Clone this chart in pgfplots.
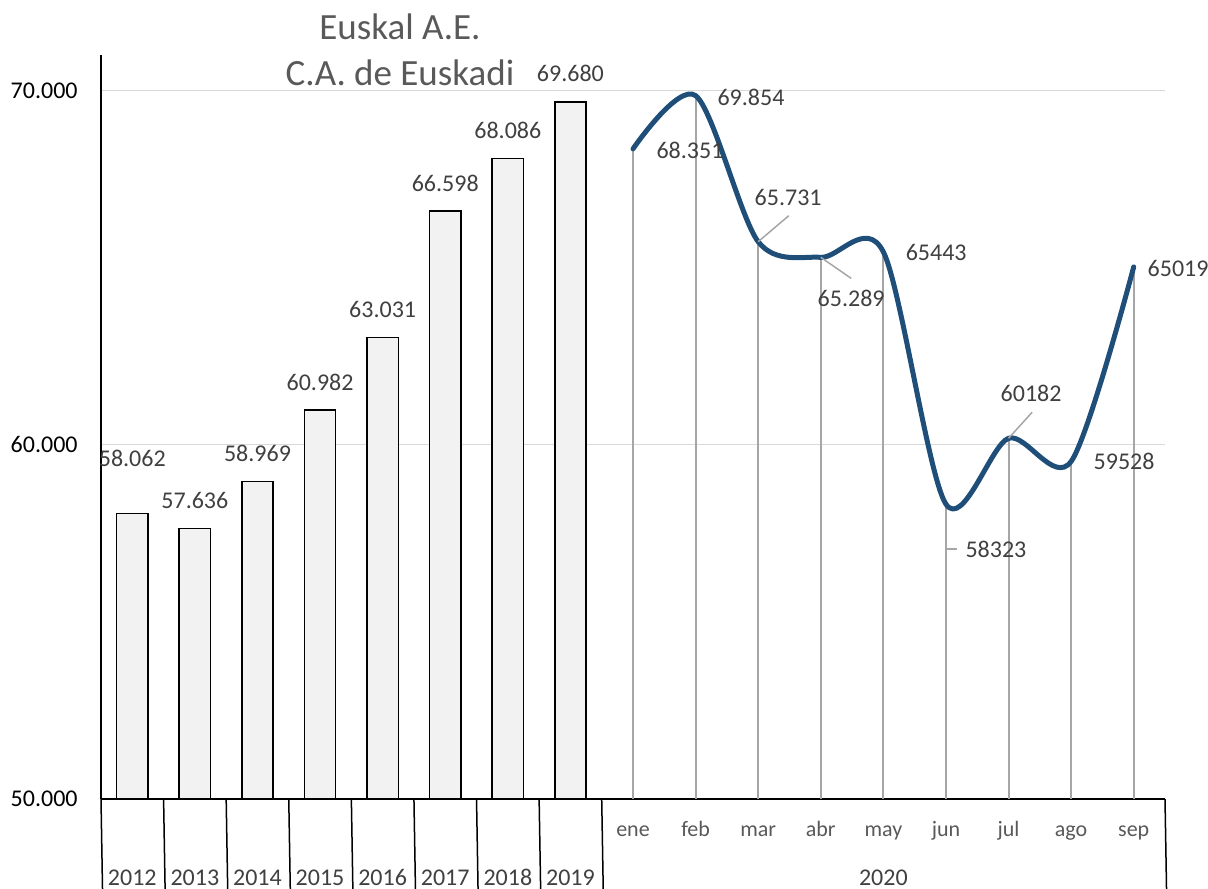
\documentclass[border=0pt]{standalone}
\usepackage{fontspec}
\setmainfont{Carlito}
\usepackage{pgfplots}
\usepackage{pgfplotstable}
\pgfplotsset{compat=1.18}
\definecolor{linecol}{HTML}{1F4E79}
\definecolor{barfill}{HTML}{F2F2F2}
\definecolor{gridc}{HTML}{D9D9D9}
\definecolor{dropc}{HTML}{A6A6A6}
\definecolor{lblc}{HTML}{404040}
\definecolor{titc}{HTML}{595959}

\pgfplotstableread{
x y label dy
0 58062 58.062 22.75
1 57636 57.636 9.5
2 58969 58.969 9.5
3 60982 60.982 9.5
4 63031 63.031 9.5
5 66598 66.598 9.5
6 68086 68.086 9.5
7 69680 69.680 9.5
}\bars

\pgfplotstableread{
x y label dx dy
8 68351 68.351 28.5 -0.75
9 69854 69.854 27.7 -0.9
10 65731 65.731 15 22
11 65289 65.289 15.2 -20.5
12 65443 65443 26.4 -0.25
13 58323 58323 25 -22.5
14 60182 60182 11.3 22.5
15 59528 59528 26.5 0
16 65019 65019 22.2 -0.7
}\months

\begin{document}
\begin{tikzpicture}
\begin{axis}[
  scale only axis,
  width=532pt, height=372pt,
  xmin=-0.5, xmax=16.5,
  ymin=50000, ymax=71000,
  scaled y ticks=false,
  axis x line*=bottom, axis y line*=left,
  axis line style={black, line width=0.75pt},
  ytick={50000,60000,70000},
  yticklabels={50.000,60.000,70.000},
  ymajorgrids,
  grid style={gridc, line width=0.75pt},
  major tick length=0pt,
  yticklabel style={anchor=east, inner sep=0pt, xshift=-11.5pt, font=\fontsize{12}{14}\selectfont, text=black},
  xtick={8,...,16},
  xticklabels={ene,feb,mar,abr,may,jun,jul,ago,sep},
  xticklabel style={anchor=base, inner sep=0pt, yshift=-18.9pt, font=\fontsize{11}{13}\selectfont, text=titc},
  extra x ticks={0,1,2,3,4,5,6,7,12},
  extra x tick labels={2012,2013,2014,2015,2016,2017,2018,2019,2020},
  extra x tick style={xticklabel style={yshift=-24.1pt, font=\fontsize{12}{14}\selectfont, text=lblc}},
  clip mode=individual,
]
\coordinate (O) at (rel axis cs:0,0);

\addplot[ybar, bar width=0.5, bar shift=0pt, fill=barfill, draw=black, line width=0.75pt,
  point meta=explicit symbolic, nodes near coords,
  visualization depends on={\thisrow{dy} \as \bdy},
  every node near coord/.append style={anchor=south, inner sep=0pt, yshift=\bdy pt,
    font=\fontsize{12}{14}\selectfont, text=lblc}]
  table[x=x, y=y, meta=label] {\bars};

\addplot[ycomb, dropc, line width=1pt, mark=none] table[x=x, y=y] {\months};

\addplot[smooth, linecol, line width=2.5pt, line cap=round, line join=round, mark=none,
  point meta=explicit symbolic, nodes near coords,
  visualization depends on={\thisrow{dx} \as \ldx},
  visualization depends on={\thisrow{dy} \as \ldy},
  every node near coord/.append style={anchor=center, xshift=\ldx pt, yshift=\ldy pt,
    inner sep=0pt, font=\fontsize{12}{14}\selectfont, text=lblc}]
  table[x=x, y=y, meta=label] {\months};

\draw[dropc, line width=0.75pt] (axis cs:10,65731) -- ++(15.3pt,13pt);
\draw[dropc, line width=0.75pt] (axis cs:11,65289) -- ++(15.2pt,-10.5pt);
\draw[dropc, line width=0.75pt] (axis cs:13,58323) ++(0pt,-22.5pt) -- ++(5.5pt,0pt);
\draw[dropc, line width=0.75pt] (axis cs:14,60182) -- ++(11.8pt,13pt);

\draw[black, line width=0.75pt] (axis cs:-0.5,50000) -- ++(0,-44.5pt);
\draw[black, line width=0.75pt] (axis cs:0.5,50000) -- ++(0,-44.5pt);
\draw[black, line width=0.75pt] (axis cs:1.5,50000) -- ++(0,-44.5pt);
\draw[black, line width=0.75pt] (axis cs:2.5,50000) -- ++(0,-44.5pt);
\draw[black, line width=0.75pt] (axis cs:3.5,50000) -- ++(0,-44.5pt);
\draw[black, line width=0.75pt] (axis cs:4.5,50000) -- ++(0,-44.5pt);
\draw[black, line width=0.75pt] (axis cs:5.5,50000) -- ++(0,-44.5pt);
\draw[black, line width=0.75pt] (axis cs:6.5,50000) -- ++(0,-44.5pt);
\draw[black, line width=0.75pt] (axis cs:7.5,50000) -- ++(0,-44.5pt);
\draw[black, line width=0.75pt] (axis cs:16.5,50000) -- ++(0,-44.5pt);

\node[text=titc, font=\fontsize{18.5}{22}\selectfont] at ([yshift=14pt]rel axis cs:0.281,1) {Euskal A.E.};
\node[text=titc, font=\fontsize{18.5}{22}\selectfont] at ([yshift=-9pt]rel axis cs:0.281,1) {C.A. de Euskadi};
\end{axis}
\pgfresetboundingbox
\path (O) ++(-50.5pt,-44.5pt) rectangle ++(604pt,444pt);
\end{tikzpicture}
\end{document}
